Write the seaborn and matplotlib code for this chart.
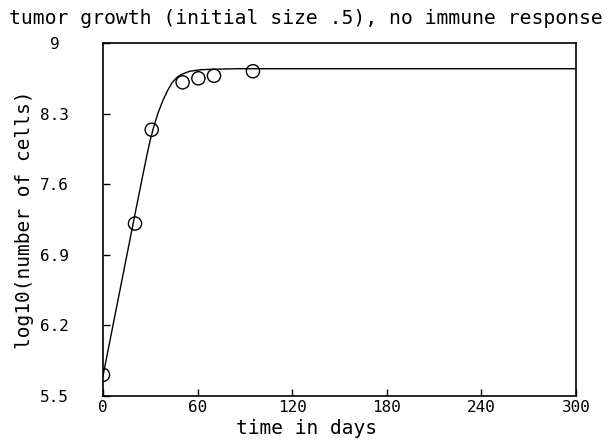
import matplotlib
matplotlib.use("Agg")
import matplotlib.pyplot as plt
import seaborn as sns
import pandas as pd

# model curve
curve_days = [0, 10, 20, 25, 28, 30, 32, 35, 38, 41, 44, 47, 50, 55, 62, 70, 85, 100, 150, 200, 300]
curve_log10 = [5.70, 6.49, 7.28, 7.67, 7.90, 8.04, 8.16, 8.31, 8.43, 8.53, 8.61, 8.66, 8.69, 8.72,
               8.735, 8.74, 8.745, 8.745, 8.745, 8.745, 8.745]

# observed points
obs_days = [0, 20.3, 30.9, 50.5, 60.5, 70.4, 95.1]
obs_log10 = [5.71, 7.21, 8.14, 8.61, 8.65, 8.675, 8.72]

xticks = [0, 60, 120, 180, 240, 300]
yticks = [5.5, 6.2, 6.9, 7.6, 8.3, 9]
ytick_labels = ["5.5", "6.2", "6.9", "7.6", "8.3", "9"]

sns.set_style("ticks")
plt.rcParams['font.family'] = ['DejaVu Sans Mono']
plt.rcParams['text.color'] = 'black'
plt.rcParams['axes.labelcolor'] = 'black'

fig = plt.figure(figsize=(6.12, 4.44), dpi=100)
ax = fig.add_axes([103 / 612, 1 - 396 / 444, 473 / 612, 353 / 444])

curve = pd.DataFrame({"day": curve_days, "val": curve_log10})
obs = pd.DataFrame({"day": obs_days, "val": obs_log10})

sns.lineplot(data=curve, x="day", y="val", color="black", linewidth=1.0, ax=ax)
sns.scatterplot(data=obs, x="day", y="val", marker="o", s=90, facecolor="none",
                edgecolor="black", linewidth=1.0, ax=ax)

ax.set_xlim(0, 300)
ax.set_ylim(5.5, 9)
ax.set_xticks(xticks)
ax.set_xticklabels([str(t) for t in xticks])
ax.set_yticks(yticks)
ax.set_yticklabels(ytick_labels, ha="center")
ax.tick_params(direction="in", length=5, width=1.0, labelsize=11.5, colors="black")
ax.tick_params(axis="y", pad=35)
ax.tick_params(axis="x", pad=3)
for sp in ax.spines.values():
    sp.set_visible(True)
    sp.set_linewidth(1.2)
    sp.set_color("black")

ax.set_xlabel("time in days", fontsize=14, color="black")
ax.xaxis.set_label_coords((306 - 103) / 473, -0.065)
ax.set_ylabel("log10(number of cells)", fontsize=14, color="black")
ax.yaxis.set_label_coords(-(103 - 34) / 473, 0.5)

fig.text(0.5, 1 - 18 / 444, "tumor growth (initial size .5), no immune response",
         ha="center", va="center", fontsize=14.2, color="black")

fig.savefig("out.png", dpi=100)
